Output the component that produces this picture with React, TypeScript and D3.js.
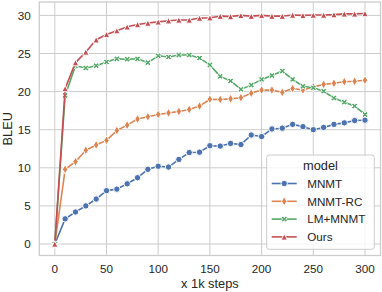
import React from "react";
import * as d3 from "d3";

const steps = [0, 10, 20, 30, 40, 50, 60, 70, 80, 90, 100, 110, 120, 130, 140, 150, 160, 170, 180, 190, 200, 210, 220, 230, 240, 250, 260, 270, 280, 290, 300];
const mnmt = [0, 3.3, 4.2, 5.0, 5.9, 7.0, 7.2, 7.9, 8.7, 9.8, 10.2, 10.1, 11.1, 12.0, 12.05, 12.9, 12.85, 13.2, 13.05, 14.3, 14.1, 15.1, 15.2, 15.7, 15.4, 15.0, 15.3, 15.7, 15.9, 16.2, 16.25];
const mnmtRc = [0, 9.8, 10.8, 12.3, 13.0, 13.6, 14.9, 15.6, 16.4, 16.7, 17.0, 17.2, 17.4, 17.65, 18.1, 19.0, 18.97, 19.05, 19.2, 19.8, 20.2, 20.2, 19.9, 20.4, 20.2, 20.6, 20.95, 21.1, 21.3, 21.35, 21.5];
const lmMnmt = [0, 19.5, 23.4, 23.1, 23.4, 23.9, 24.3, 24.25, 24.3, 23.8, 24.7, 24.55, 24.8, 24.8, 24.4, 23.5, 22.0, 21.4, 20.3, 20.85, 21.6, 22.1, 22.7, 21.6, 20.7, 20.5, 20.05, 19.15, 18.6, 18.1, 17.0];
const ours = [0, 20.4, 23.8, 25.2, 26.8, 27.5, 28.0, 28.5, 28.8, 29.0, 29.15, 29.3, 29.4, 29.4, 29.65, 29.7, 29.9, 29.85, 30.0, 29.9, 30.0, 29.9, 29.9, 30.05, 30.0, 30.05, 30.05, 30.1, 30.2, 30.2, 30.25];

const seriesNames = ["MNMT", "MNMT-RC", "LM+MNMT", "Ours"];
const seriesValues = [mnmt, mnmtRc, lmMnmt, ours];
const seriesColors = ["#4C72B0", "#DD8452", "#55A868", "#C44E52"];
const seriesMarkers = ["circle", "thinDiamond", "xFilled", "triangle"];

const xTicks = [0, 50, 100, 150, 200, 250, 300];
const yTicks = [0, 5, 10, 15, 20, 25, 30];

const W = 382;
const H = 292;
const FONT = "'Liberation Sans', Arial, sans-serif";
const TEXT = "#262626";
const GRID = "#cccccc";

function markerPath(type: string, s: number): string {
  if (type === "circle") {
    const r = s / 2;
    return `M${r},0A${r},${r} 0 1,1 ${-r},0A${r},${r} 0 1,1 ${r},0Z`;
  }
  if (type === "thinDiamond") {
    const h = s * 0.707;
    const w = h * 0.6;
    return `M0,${-h}L${w},0L0,${h}L${-w},0Z`;
  }
  if (type === "triangle") {
    const a = s / 2;
    return `M0,${-a}L${a},${a}L${-a},${a}Z`;
  }
  // filled X
  const a = s / 2;
  const w = s * 0.17;
  const pts: [number, number][] = [
    [-w, -a], [w, -a], [w, -w], [a, -w], [a, w], [w, w], [w, a], [-w, a], [-w, w], [-a, w], [-a, -w], [-w, -w],
  ];
  const c = Math.cos(Math.PI / 4);
  const rot = pts.map(([x, y]) => [x * c - y * c, x * c + y * c]);
  return "M" + rot.map((p) => `${p[0].toFixed(2)},${p[1].toFixed(2)}`).join("L") + "Z";
}

export default function App() {
  const left = 39.3, right = 380.5, top = 2, bottom = 255.5;
  const x = d3.scaleLinear().domain([-15, 315]).range([left, right]);
  const y = d3.scaleLinear().domain([-1.51, 31.76]).range([bottom, top]);
  const line = d3.line<number>().x((_, i) => x(steps[i])).y((d) => y(d));

  const legX = 266.7, legY = 155, legW = 107.6, legH = 94.3;
  const rowY = [183.5, 201.3, 219.1, 236.9];

  return (
    <svg width={W} height={H} style={{ position: "absolute", left: 0, top: 0, background: "#fff" }} fontFamily={FONT}>
      <rect x={0} y={0} width={W} height={H} fill="#fff" />
      {xTicks.map((t) => (
        <line key={"gx" + t} x1={x(t)} x2={x(t)} y1={top} y2={bottom} stroke={GRID} strokeWidth={1} />
      ))}
      {yTicks.map((t) => (
        <line key={"gy" + t} x1={left} x2={right} y1={y(t)} y2={y(t)} stroke={GRID} strokeWidth={1} />
      ))}
      <rect x={left} y={top} width={right - left} height={bottom - top} fill="none" stroke={GRID} strokeWidth={1.3} />
      {xTicks.map((t) => (
        <text key={"tx" + t} x={x(t)} y={273.3} textAnchor="middle" fontSize={11.7} fill={TEXT}>{t}</text>
      ))}
      {yTicks.map((t) => (
        <text key={"ty" + t} x={30.8} y={y(t) + 4.2} textAnchor="end" fontSize={11.7} fill={TEXT}>{t}</text>
      ))}
      <text x={(left + right) / 2} y={287.5} textAnchor="middle" fontSize={12.8} fill={TEXT}>x 1k steps</text>
      <text transform={`translate(11.5,${(top + bottom) / 2}) rotate(-90)`} textAnchor="middle" fontSize={12.8} fill={TEXT}>BLEU</text>

      {seriesValues.map((vals, si) => (
        <g key={"s" + si}>
          <path d={line(vals) || ""} fill="none" stroke={seriesColors[si]} strokeWidth={1.6} strokeLinejoin="round" strokeLinecap="round" />
          {vals.map((v, i) => (
            <path key={i} d={markerPath(seriesMarkers[si], 6.4)} transform={`translate(${x(steps[i])},${y(v)})`} fill={seriesColors[si]} stroke="#fff" strokeWidth={1} />
          ))}
        </g>
      ))}

      <rect x={legX} y={legY} width={legW} height={legH} rx={2.5} fill="#fff" fillOpacity={0.8} stroke={GRID} strokeWidth={1} />
      <text x={legX + legW / 2} y={169.5} textAnchor="middle" fontSize={12.8} fill={TEXT}>model</text>
      {seriesNames.map((n, i) => (
        <g key={"l" + i}>
          <line x1={271.7} x2={296.7} y1={rowY[i]} y2={rowY[i]} stroke={seriesColors[i]} strokeWidth={1.6} />
          <path d={markerPath(seriesMarkers[i], 6.4)} transform={`translate(284.2,${rowY[i]})`} fill={seriesColors[i]} stroke="#fff" strokeWidth={1} />
          <text x={307.2} y={rowY[i] + 4.2} fontSize={11.7} fill={TEXT}>{n}</text>
        </g>
      ))}
    </svg>
  );
}
